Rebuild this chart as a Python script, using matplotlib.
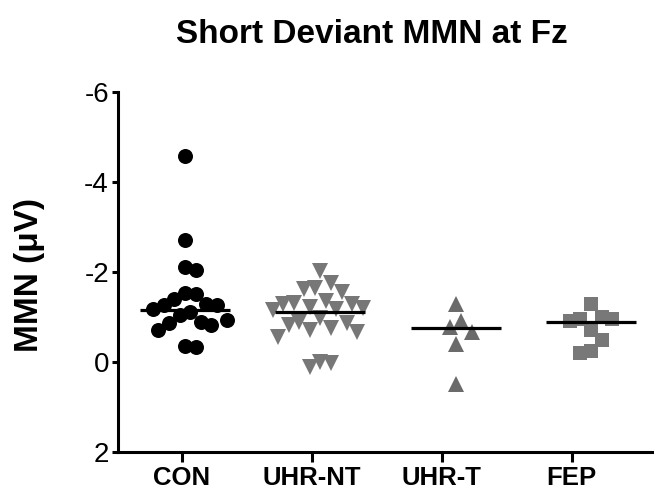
import numpy as np
import matplotlib
matplotlib.use("Agg")
import matplotlib.pyplot as plt

plt.rcParams['font.family'] = ['Liberation Sans', 'DejaVu Sans']
plt.rcParams['axes.unicode_minus'] = False

# ---- data ----
categories = ["CON", "UHR-NT", "UHR-T", "FEP"]
con = [-4.58, -2.71, -2.11, -2.04, -1.53, -1.51, -1.41, -1.29, -1.27, -1.27,
       -1.17, -1.12, -1.04, -0.93, -0.90, -0.86, -0.82, -0.71, -0.36, -0.34]
uhr_nt = [-2.03, -1.75, -1.65, -1.62, -1.55, -1.35, -1.32, -1.30, -1.30, -1.23,
          -1.20, -1.17, -1.16, -0.97, -0.90, -0.86, -0.82, -0.75, -0.71, -0.67,
          -0.55, -0.01, 0.10, 0.03]
uhr_t = [-1.29, -0.92, -0.78, -0.67, -0.41, 0.49]
fep = [-1.29, -1.00, -0.95, -0.95, -0.91, -0.71, -0.50, -0.24, -0.19]
center_lines = [-1.16, -1.12, -0.76, -0.88]
yticks = [-6, -4, -2, 0, 2]

groups = [con, uhr_nt, uhr_t, fep]
markers = ["o", "v", "^", "s"]
colors = ["#000000", "#777777", "#6a6a6a", "#787878"]
sizes = [10.8, 11.6, 11.6, 10.6]

W, H, DPI = 6.54, 4.93, 100
fig = plt.figure(figsize=(W, H), dpi=DPI)
ax = fig.add_axes([118 / 654, (493 - 452) / 493, 1 - 118 / 654, (452 - 92) / 493])

xlim = (-0.495, 3.466)
ylim = (2, -6)
ax.set_xlim(*xlim)
ax.set_ylim(*ylim)

# pixel scales for swarm layout
px_per_x = ax.get_position().width * W * DPI / (xlim[1] - xlim[0])
px_per_y = ax.get_position().height * H * DPI / abs(ylim[1] - ylim[0])


def swarm(values, dx_min=10.5, dy_min=19.0, step=5.3):
    """GraphPad-like scatter spreading: points whose values are close are
    spread sideways on a grid of columns."""
    vals = np.asarray(values, float)
    order = np.argsort(vals)
    placed = []
    offs = np.zeros(len(vals))
    for i in order:
        y = vals[i] * px_per_y
        k = 0
        while True:
            cands = [0.0] if k == 0 else [k * step, -k * step]
            done = False
            for c in cands:
                ok = all(((c - px) / dx_min) ** 2 + ((y - py) / dy_min) ** 2 >= 1.0
                         for px, py in placed)
                if ok:
                    offs[i] = c
                    placed.append((c, y))
                    done = True
                    break
            if done:
                break
            k += 1
    return offs / px_per_x


for i, (vals, m, c, s) in enumerate(zip(groups, markers, colors, sizes)):
    xo = swarm(vals)
    ax.plot(i + xo, vals, linestyle="none", marker=m, markersize=s,
            markerfacecolor=c, markeredgecolor=c, markeredgewidth=0, zorder=3)
    ax.plot([i - 0.333, i + 0.333], [center_lines[i]] * 2, color="black",
            linewidth=2.3, solid_capstyle="butt", zorder=4)

for side in ["top", "right"]:
    ax.spines[side].set_visible(False)
for side in ["left", "bottom"]:
    ax.spines[side].set_linewidth(2.2)

ax.set_yticks(yticks)
ax.set_yticklabels([str(t) for t in yticks], fontsize=20)
tick_pos = [-0.024 + 0.961 * i for i in range(len(categories))]
ax.set_xticks(tick_pos)
ax.set_xticklabels(categories, fontsize=18.5, fontweight="bold")
ax.tick_params(axis="y", length=4.5, width=2.2, pad=2)
ax.tick_params(axis="x", length=7, width=2.2, pad=3)

fig.text(29.5 / 654, 1 - 275 / 493, "MMN (\u03bcV)", rotation=90, fontsize=24,
         fontweight="bold", ha="center", va="center")
fig.text(372 / 654, 1 - 43 / 493, "Short Deviant MMN at Fz", fontsize=24,
         fontweight="bold", ha="center", va="baseline")

fig.savefig("out.png", dpi=DPI)
